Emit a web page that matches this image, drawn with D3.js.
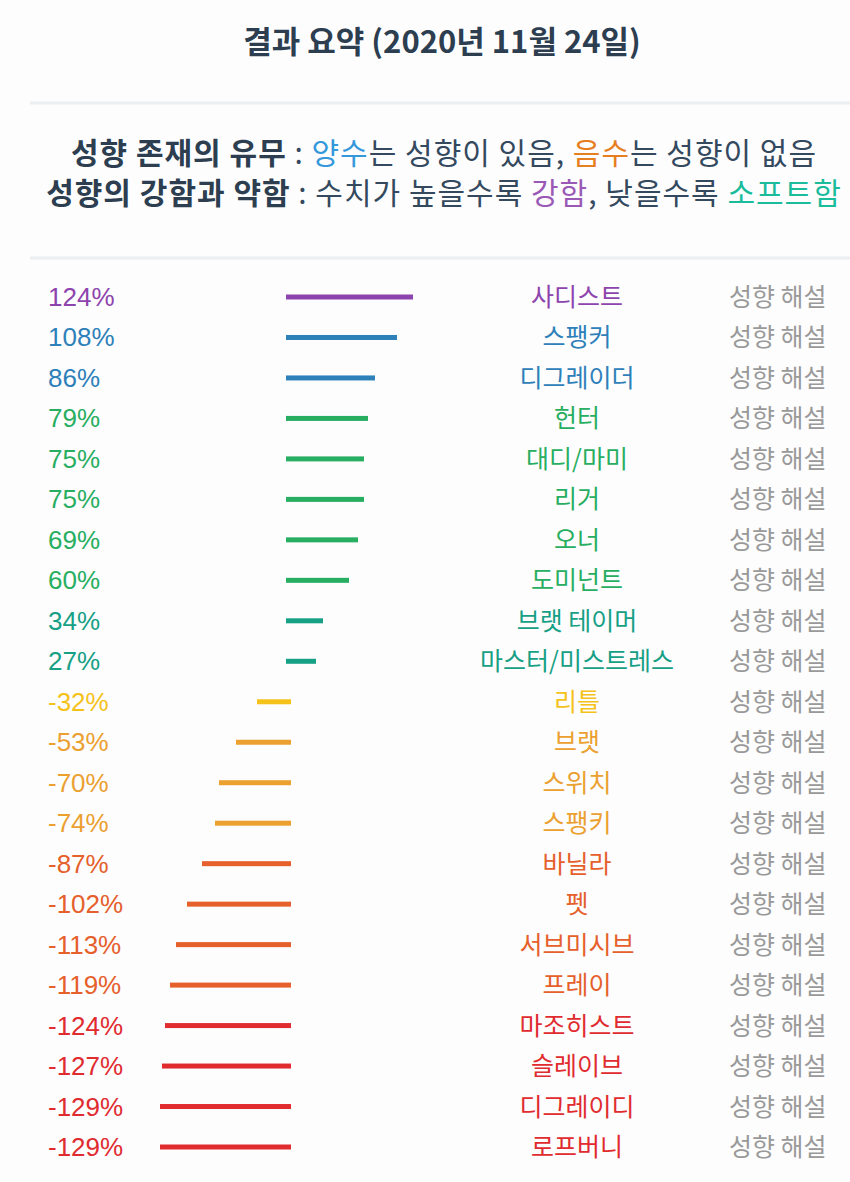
<!DOCTYPE html>
<html>
<head>
<meta charset="utf-8">
<title>결과 요약</title>
<style>
  body { margin: 0; background: #fdfdfe; }
  svg { display: block; }
</style>
</head>
<body>
<div id="chart"></div>
<script src="https://d3js.org/d3.v7.min.js"></script>
<script>
var names = ["사디스트", "스팽커", "디그레이더", "헌터", "대디/마미", "리거", "오너", "도미넌트",
  "브랫 테이머", "마스터/미스트레스", "리틀", "브랫", "스위치", "스팽키", "바닐라", "펫",
  "서브미시브", "프레이", "마조히스트", "슬레이브", "디그레이디", "로프버니"];
var values = [124, 108, 86, 79, 75, 75, 69, 60, 34, 27, -32, -53, -70, -74, -87, -102,
  -113, -119, -124, -127, -129, -129];
var colors = ["#8e44ad", "#2e80b9", "#2e80b9", "#27ae60", "#27ae60", "#27ae60", "#27ae60", "#27ae60",
  "#16a085", "#16a085", "#f5c21a", "#eba030", "#eba030", "#eba030", "#e5602b", "#e5602b",
  "#e5602b", "#e5602b", "#e02b2f", "#e02b2f", "#e02b2f", "#e02b2f"];

var W = 850, H = 1182;
var svg = d3.select("#chart").append("svg").attr("width", W).attr("height", H);

var kr = "'Noto Sans CJK KR', 'Noto Sans', sans-serif";

// title
svg.append("text")
  .attr("x", 442).attr("y", 53)
  .attr("text-anchor", "middle")
  .attr("font-family", kr).attr("font-weight", "bold")
  .attr("font-size", 31).attr("fill", "#2c3e50")
  .text("결과 요약 (2020년 11월 24일)");

// separators
[103, 258].forEach(function(yy) {
  svg.append("line").attr("x1", 30).attr("x2", W).attr("y1", yy).attr("y2", yy)
    .attr("stroke", "#eceef1").attr("stroke-width", 3);
});

// legend lines
var legend = [
  [["성향 존재의 유무", "#2c3e50", "bold"], [" : ", "#34495e", "normal"], ["양수", "#3498db", "normal"],
   ["는 성향이 있음, ", "#34495e", "normal"], ["음수", "#e67e22", "normal"], ["는 성향이 없음", "#34495e", "normal"]],
  [["성향의 강함과 약함", "#2c3e50", "bold"], [" : 수치가 높을수록 ", "#34495e", "normal"], ["강함", "#9b59b6", "normal"],
   [", 낮을수록 ", "#34495e", "normal"], ["소프트함", "#1abc9c", "normal"]]
];
legend.forEach(function(parts, i) {
  var t = svg.append("text")
    .attr("x", 444).attr("y", 164 + i * 40)
    .attr("text-anchor", "middle")
    .attr("font-family", kr).attr("font-size", 30)
    .attr("letter-spacing", 1)
    .attr("xml:space", "preserve");
  parts.forEach(function(p) {
    t.append("tspan").attr("fill", p[1]).attr("font-weight", p[2]).text(p[0]);
  });
});

// scales
var x = d3.scaleLinear().domain([-129, 124]).range([160, 413]);
var y = d3.scalePoint().domain(d3.range(names.length)).range([297, 1147]);

var rows = svg.append("g").selectAll("g").data(values).join("g")
  .attr("transform", function(d, i) { return "translate(0," + y(i) + ")"; });

rows.append("text")
  .attr("x", 48).attr("y", 9)
  .attr("font-family", "'Liberation Sans', Arial, sans-serif")
  .attr("font-size", 26)
  .attr("fill", function(d, i) { return colors[i]; })
  .text(function(d) { return d + "%"; });

rows.append("rect")
  .attr("x", function(d) { return d > 0 ? x(0) - 3 : x(d); })
  .attr("width", function(d) { return d > 0 ? x(d) - x(0) + 3 : x(0) + 2 - x(d); })
  .attr("y", -2.5).attr("height", 5)
  .attr("fill", function(d, i) { return colors[i]; });

rows.append("text")
  .attr("x", 577).attr("y", 9)
  .attr("text-anchor", "middle")
  .attr("font-family", kr).attr("font-size", 25)
  .attr("fill", function(d, i) { return colors[i]; })
  .text(function(d, i) { return names[i]; });

rows.append("text")
  .attr("x", 729).attr("y", 9)
  .attr("font-family", kr).attr("font-size", 25)
  .attr("fill", "#999999")
  .text("성향 해설");
</script>
</body>
</html>
